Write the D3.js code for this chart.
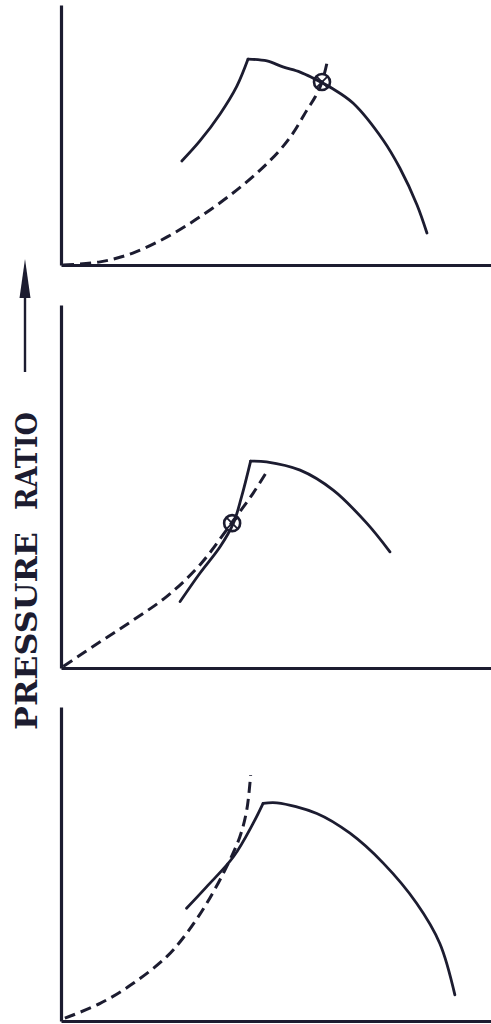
<!DOCTYPE html>
<html>
<head>
<meta charset="utf-8">
<script src="https://cdn.jsdelivr.net/npm/d3@7"></script>
<style>
  html, body { margin: 0; padding: 0; background: #ffffff; }
  svg { display: block; }
</style>
</head>
<body>
<svg id="chart" width="491" height="1024"></svg>
<script>
// ---- Data (flow in % of axis length, pressure ratio in % of axis height) ----
// Panel 1 (top)
const rise1 = [[28.1,40.0],[32.3,47.7],[37.0,58.1],[40.9,68.8],[43.5,79.2]];
const fall1 = [[43.5,79.2],[47.9,78.5],[51.6,76.2],[55.6,74.2],[58.6,71.9],[63.3,67.7],[67.9,62.3],[74.9,48.1],[78.8,37.3],[82.8,23.1],[85.1,12.3]];
const dash1 = [[0.5,0],[9.1,1.2],[16.7,4.6],[24.7,10.8],[32.3,18.5],[40.0,27.7],[46.3,36.5],[50.9,44.2],[54.0,50.8],[57.2,59.6],[59.1,64.6],[60.7,70.4],[61.9,78.1]];
const point1 = [[60.7,70.4]];

// Panel 2 (middle)
const rise2 = [[27.7,18.3],[32.3,26.1],[37.0,33.4],[40.1,39.9],[42.0,47.2],[44.1,57.0]];
const fall2 = [[44.1,57.0],[47.8,56.8],[55.6,54.5],[63.3,49.0],[71.1,39.9],[76.5,32.0]];
const dash2 = [[0.5,0.4],[9.1,7.2],[16.8,13.2],[24.7,19.8],[32.3,28.4],[40.0,40.5],[44.7,48.2],[47.8,54.0]];
const point2 = [[39.8,39.9]];

// Panel 3 (bottom)
const rise3 = [[29.2,35.9],[33.9,42.8],[40.1,52.3],[44.7,63.0],[47.0,69.3]];
const fall3 = [[47.0,69.3],[50.2,69.5],[59.5,66.1],[67.2,59.8],[75.0,50.2],[82.7,37.5],[88.1,24.7],[91.6,8.3]];
const dash3 = [[0.9,0.9],[9.1,5.6],[16.8,12.0],[24.6,20.5],[29.2,27.9],[33.9,37.5],[38.5,49.1],[41.6,58.7],[43.2,67.2],[44.1,78.3]];
const point3 = [];

const axisLabelWords = ["PRESSURE", "RATIO"];

// ---- Layout ----
const ink = "#1c1c30";
const svg = d3.select("#chart");

const panels = [
  { top: 5,   bottom: 265,  rise: rise1, fall: fall1, dash: dash1, pts: point1 },
  { top: 305, bottom: 668,  rise: rise2, fall: fall2, dash: dash2, pts: point2 },
  { top: 707, bottom: 1021, rise: rise3, fall: fall3, dash: dash3, pts: point3 }
];

panels.forEach(p => {
  const x = d3.scaleLinear().domain([0, 100]).range([61, 491]);
  const y = d3.scaleLinear().domain([0, 100]).range([p.bottom, p.top]);

  const g = svg.append("g");

  // axes (no ticks, just the axis lines)
  const xAxis = g.append("g")
    .attr("transform", `translate(0,${p.bottom})`)
    .call(d3.axisBottom(x).ticks(0).tickSizeOuter(0));
  const yAxis = g.append("g")
    .attr("transform", `translate(61,0)`)
    .call(d3.axisLeft(y).ticks(0).tickSizeOuter(0));
  [xAxis, yAxis].forEach(a => {
    a.select(".domain").attr("stroke", ink).attr("stroke-width", 3.2);
    a.selectAll("text").remove();
  });

  const line = d3.line()
    .x(d => x(d[0])).y(d => y(d[1]))
    .curve(d3.curveCatmullRom.alpha(0.5));

  // dashed curve
  g.append("path")
    .attr("d", line(p.dash))
    .attr("fill", "none")
    .attr("stroke", ink)
    .attr("stroke-width", 3)
    .attr("stroke-dasharray", "11,6");

  // solid characteristic (rising branch + falling branch with sharp peak)
  [p.rise, p.fall].forEach(seg => {
    g.append("path")
      .attr("d", line(seg))
      .attr("fill", "none")
      .attr("stroke", ink)
      .attr("stroke-width", 2.8)
      .attr("stroke-linecap", "round");
  });

  // operating point markers
  p.pts.forEach(pt => {
    const cx = x(pt[0]), cy = y(pt[1]), r = 8;
    g.append("circle").attr("cx", cx).attr("cy", cy).attr("r", r)
      .attr("fill", "none").attr("stroke", ink).attr("stroke-width", 2.6);
    const k = r * 0.7;
    g.append("path")
      .attr("d", `M${cx - k},${cy - k}L${cx + k},${cy + k}M${cx - k},${cy + k}L${cx + k},${cy - k}`)
      .attr("stroke", ink).attr("stroke-width", 1.8);
  });
});

// ---- Y label with arrow ----
const lab = svg.append("g");
lab.append("line")
  .attr("x1", 25).attr("y1", 372).attr("x2", 25).attr("y2", 292)
  .attr("stroke", ink).attr("stroke-width", 2.4);
lab.append("path")
  .attr("d", "M25,259 L30.5,298 L19.5,298 Z")
  .attr("fill", ink);

const wordCenters = [631, 461];
const wordLengths = [198, 98];
axisLabelWords.forEach((w, i) => {
  lab.append("text")
    .attr("transform", `translate(37,${wordCenters[i]}) rotate(-90)`)
    .attr("text-anchor", "middle")
    .attr("font-family", "DejaVu Serif, Liberation Serif, serif")
    .attr("font-weight", "bold")
    .attr("font-size", 29)
    .attr("textLength", wordLengths[i])
    .attr("lengthAdjust", "spacingAndGlyphs")
    .attr("fill", ink)
    .text(w);
});
</script>
</body>
</html>
